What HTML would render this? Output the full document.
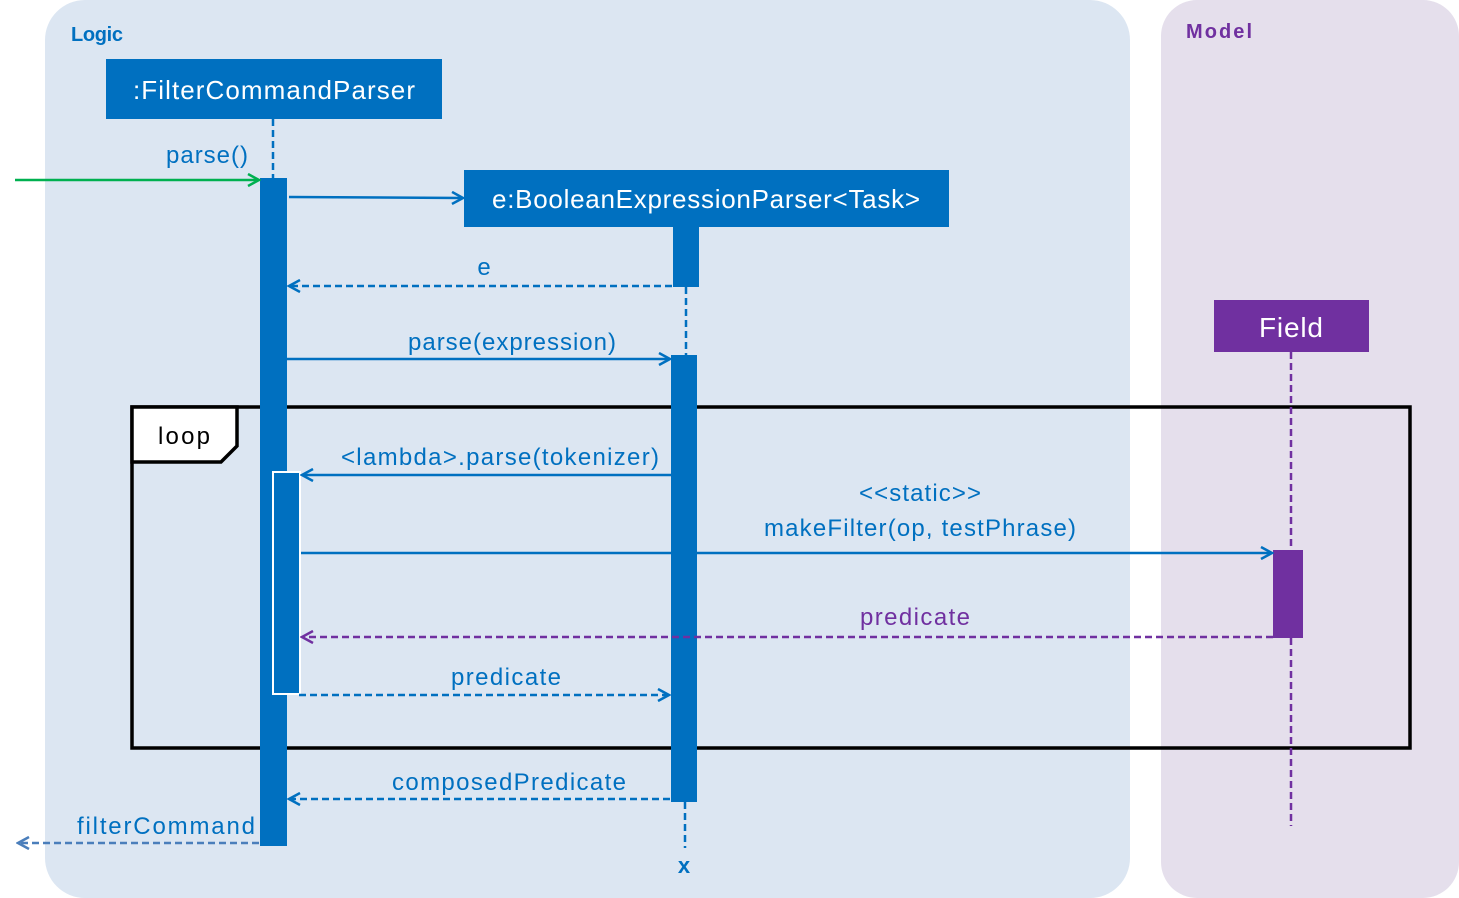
<!DOCTYPE html>
<html><head><style>html,body{margin:0;padding:0;background:#fff}svg{display:block}</style></head><body>
<svg width="1459" height="898" viewBox="0 0 1459 898" xmlns="http://www.w3.org/2000/svg" font-family="Liberation Sans, sans-serif">
<defs>
<marker id="ab" markerWidth="14" markerHeight="14" refX="12" refY="7" orient="auto" markerUnits="userSpaceOnUse"><path d="M1,1 L12,7 L1,13" fill="none" stroke="#0070C0" stroke-width="2.5"/></marker>
<marker id="ag" markerWidth="14" markerHeight="14" refX="12" refY="7" orient="auto" markerUnits="userSpaceOnUse"><path d="M1,1 L12,7 L1,13" fill="none" stroke="#00B050" stroke-width="2.5"/></marker>
<marker id="ap" markerWidth="14" markerHeight="14" refX="12" refY="7" orient="auto" markerUnits="userSpaceOnUse"><path d="M1,1 L12,7 L1,13" fill="none" stroke="#7030A0" stroke-width="2.5"/></marker>
<marker id="al" markerWidth="14" markerHeight="14" refX="12" refY="7" orient="auto" markerUnits="userSpaceOnUse"><path d="M1,1 L12,7 L1,13" fill="none" stroke="#4A7EBB" stroke-width="2.5"/></marker>
</defs>
<rect x="45" y="0" width="1085" height="898" rx="40" fill="#DCE6F2"/>
<rect x="1161" y="0" width="298" height="898" rx="36" fill="#E5DFEC"/>
<text x="71" y="41" font-size="20" font-weight="bold" fill="#0070C0" textLength="52">Logic</text>
<text x="1186" y="38" font-size="20" font-weight="bold" fill="#7030A0" textLength="66">Model</text>

<!-- loop frame -->
<rect x="132" y="407" width="1278" height="341" fill="none" stroke="#000" stroke-width="3.5"/>
<path d="M132,407 L237,407 L237,446 L221,462 L132,462 Z" fill="#fff" stroke="#000" stroke-width="3.5"/>
<text x="158" y="444" font-size="24" fill="#000" textLength="52">loop</text>

<!-- lifelines -->
<line x1="273" y1="119" x2="273" y2="178" stroke="#0070C0" stroke-width="2.5" stroke-dasharray="7,4"/>
<line x1="686" y1="287" x2="686" y2="355" stroke="#0070C0" stroke-width="2.5" stroke-dasharray="7,4"/>
<line x1="685" y1="802" x2="685" y2="848" stroke="#0070C0" stroke-width="2.5" stroke-dasharray="7,4"/>
<line x1="1291" y1="352" x2="1291" y2="826" stroke="#7030A0" stroke-width="2.5" stroke-dasharray="7,4"/>

<!-- boxes -->
<rect x="106" y="59" width="336" height="60" fill="#0070C0"/>
<text x="274" y="99" font-size="26" fill="#fff" text-anchor="middle" textLength="282">:FilterCommandParser</text>
<rect x="464" y="170" width="485" height="57" fill="#0070C0"/>
<text x="706" y="208" font-size="26" fill="#fff" text-anchor="middle" textLength="428">e:BooleanExpressionParser&lt;Task&gt;</text>
<rect x="1214" y="300" width="155" height="52" fill="#7030A0"/>
<text x="1291" y="337" font-size="28" fill="#fff" text-anchor="middle" textLength="64">Field</text>

<!-- activations -->
<rect x="260" y="178" width="27" height="668" fill="#0070C0"/>
<rect x="673" y="227" width="26" height="60" fill="#0070C0"/>
<rect x="671" y="355" width="26" height="447" fill="#0070C0"/>
<rect x="273" y="472" width="27" height="222" fill="#0070C0" stroke="#fff" stroke-width="2"/>
<rect x="1273" y="550" width="30" height="88" fill="#7030A0"/>

<!-- messages -->
<line x1="15" y1="180" x2="259" y2="180" stroke="#00B050" stroke-width="2.5" marker-end="url(#ag)"/>
<text x="207" y="163" font-size="24" fill="#0070C0" text-anchor="middle" textLength="82">parse()</text>

<line x1="289" y1="197" x2="463" y2="198" stroke="#0070C0" stroke-width="2.5" marker-end="url(#ab)"/>

<line x1="672" y1="286" x2="289" y2="286" stroke="#0070C0" stroke-width="2.5" stroke-dasharray="7,4" marker-end="url(#ab)"/>
<text x="484" y="275" font-size="24" fill="#0070C0" text-anchor="middle">e</text>

<line x1="287" y1="359" x2="670" y2="359" stroke="#0070C0" stroke-width="2.5" marker-end="url(#ab)"/>
<text x="512" y="350" font-size="24" fill="#0070C0" text-anchor="middle" textLength="208">parse(expression)</text>

<line x1="671" y1="475" x2="302" y2="475" stroke="#0070C0" stroke-width="2.5" marker-end="url(#ab)"/>
<text x="500" y="465" font-size="24" fill="#0070C0" text-anchor="middle" textLength="318">&lt;lambda&gt;.parse(tokenizer)</text>

<line x1="301" y1="553" x2="1272" y2="553" stroke="#0070C0" stroke-width="2.5" marker-end="url(#ab)"/>
<text x="920" y="501" font-size="24" fill="#0070C0" text-anchor="middle" textLength="122">&lt;&lt;static&gt;&gt;</text>
<text x="920" y="536" font-size="24" fill="#0070C0" text-anchor="middle" textLength="312">makeFilter(op, testPhrase)</text>

<line x1="1273" y1="637" x2="302" y2="637" stroke="#7030A0" stroke-width="2.5" stroke-dasharray="7,4" marker-end="url(#ap)"/>
<text x="915" y="625" font-size="24" fill="#7030A0" text-anchor="middle" textLength="110">predicate</text>

<line x1="299" y1="695" x2="669" y2="695" stroke="#0070C0" stroke-width="2.5" stroke-dasharray="7,4" marker-end="url(#ab)"/>
<text x="506" y="685" font-size="24" fill="#0070C0" text-anchor="middle" textLength="110">predicate</text>

<line x1="670" y1="799" x2="289" y2="799" stroke="#0070C0" stroke-width="2.5" stroke-dasharray="7,4" marker-end="url(#ab)"/>
<text x="509" y="790" font-size="24" fill="#0070C0" text-anchor="middle" textLength="234">composedPredicate</text>

<line x1="259" y1="843" x2="18" y2="843" stroke="#4A7EBB" stroke-width="2.5" stroke-dasharray="7,4" marker-end="url(#al)"/>
<text x="166" y="834" font-size="24" fill="#0070C0" text-anchor="middle" textLength="178">filterCommand</text>

<text x="684" y="873" font-size="22" font-weight="bold" fill="#0070C0" text-anchor="middle">x</text>
</svg>
</body></html>
